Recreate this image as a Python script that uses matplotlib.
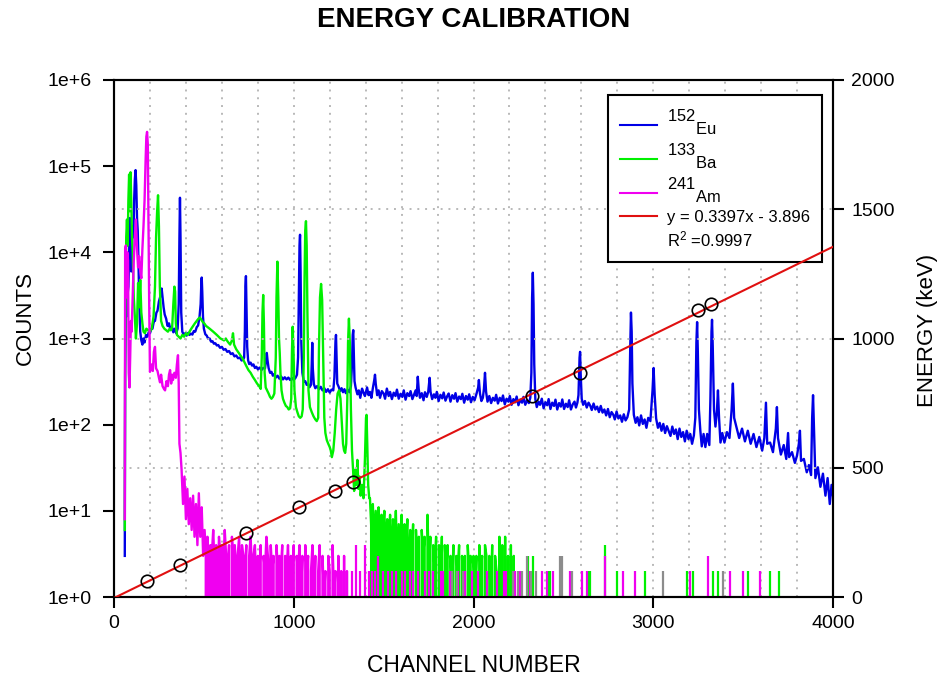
import numpy as np
import matplotlib
matplotlib.use("Agg")
import matplotlib.pyplot as plt
from matplotlib.lines import Line2D
from matplotlib.ticker import FixedLocator, FuncFormatter, NullLocator

plt.rcParams["font.family"] = "Liberation Sans"
plt.rcParams["mathtext.fontset"] = "custom"
plt.rcParams["mathtext.rm"] = "Liberation Sans"
plt.rcParams["mathtext.it"] = "Liberation Sans:italic"

# linear calibration  E = a*ch + b
fit_slope = 0.3397
fit_intercept = -3.896
fit_r2 = 0.9997

# photopeak centroids used for the fit
calib_channel = [184, 367, 734, 1029, 1229, 1330, 2325, 2593, 3249, 3321]
calib_energy = [62, 124, 248, 348, 410, 445, 778, 867, 1110, 1133]

# 152Eu spectrum (channel, counts)
eu_spectrum = [
    (60, 3), (62, 400), (66, 2500), (70, 1800), (74, 3000), (80, 4000), (84, 9000),
    (88, 25000), (92, 8000), (96, 6000), (100, 12000), (104, 20000), (108, 15000),
    (112, 40000), (116, 70000), (120, 90000), (124, 60000), (128, 25000), (132, 18000),
    (136, 8000), (140, 3000), (146, 1200), (152, 950), (158, 850), (164, 1000), (170, 900),
    (178, 1100), (186, 1050), (194, 1200), (200, 1150), (208, 1300), (214, 1300),
    (222, 1600), (228, 1600), (236, 2000), (242, 2100), (250, 2700), (258, 3100),
    (265, 3800), (270, 3000), (276, 2300), (282, 1900), (290, 1700), (298, 1400),
    (306, 1500), (314, 1250), (322, 1380), (330, 1180), (338, 1300), (346, 1150),
    (354, 1300), (360, 2500), (364, 15000), (367, 43000), (370, 15000), (374, 2000),
    (380, 1200), (388, 1100), (396, 1150), (404, 1080), (412, 1160), (420, 1100),
    (428, 1140), (436, 1110), (444, 1220), (452, 1200), (460, 1350), (468, 1420),
    (476, 1800), (482, 2500), (486, 4500), (488, 5100), (491, 3500), (495, 1800),
    (500, 1300), (508, 1120), (516, 1080), (524, 990), (532, 1000), (540, 920),
    (548, 930), (556, 870), (564, 880), (572, 830), (580, 840), (590, 780), (600, 800),
    (610, 740), (620, 755), (630, 700), (640, 715), (650, 660), (660, 675), (670, 620),
    (680, 635), (690, 590), (700, 600), (710, 555), (718, 570), (724, 600), (728, 1200),
    (731, 4000), (734, 5300), (737, 2500), (741, 800), (746, 560), (752, 505),
    (760, 525), (768, 485), (776, 500), (784, 455), (792, 470), (800, 440), (810, 460),
    (820, 430), (830, 455), (840, 450), (846, 560), (850, 680), (854, 560), (860, 455),
    (868, 400), (876, 410), (884, 370), (892, 385), (900, 352), (910, 370), (920, 342),
    (930, 362), (940, 335), (950, 355), (960, 335), (970, 352), (980, 330), (990, 348),
    (1000, 330), (1010, 350), (1018, 380), (1024, 600), (1028, 3000), (1032, 12000),
    (1035, 16000), (1038, 6000), (1042, 900), (1048, 400), (1056, 315), (1064, 320),
    (1072, 290), (1080, 300), (1088, 272), (1096, 290), (1100, 500), (1103, 890),
    (1106, 450), (1112, 295), (1120, 265), (1130, 280), (1140, 258), (1150, 275),
    (1160, 250), (1170, 265), (1180, 240), (1190, 258), (1200, 236), (1210, 255),
    (1220, 250), (1226, 350), (1232, 900), (1235, 1100), (1238, 600), (1242, 300),
    (1250, 275), (1258, 245), (1266, 265), (1274, 238), (1282, 258), (1290, 232),
    (1300, 255), (1310, 238), (1318, 280), (1324, 500), (1328, 1100), (1331, 1250),
    (1334, 700), (1338, 320), (1344, 270), (1354, 225), (1362, 250), (1370, 205),
    (1380, 262), (1388, 235), (1396, 215), (1408, 270), (1416, 220), (1424, 240),
    (1432, 205), (1440, 265), (1448, 330), (1452, 380), (1456, 300), (1464, 220),
    (1472, 250), (1480, 205), (1490, 245), (1500, 230), (1508, 200), (1518, 262),
    (1528, 215), (1536, 240), (1546, 198), (1556, 235), (1566, 215), (1574, 255),
    (1584, 200), (1594, 228), (1604, 210), (1612, 250), (1622, 195), (1632, 232),
    (1642, 215), (1650, 245), (1660, 198), (1670, 225), (1678, 250), (1684, 215),
    (1690, 360), (1695, 260), (1702, 205), (1712, 232), (1722, 192), (1730, 238),
    (1740, 210), (1748, 240), (1756, 350), (1761, 240), (1770, 198), (1780, 225),
    (1788, 205), (1796, 240), (1806, 188), (1816, 222), (1826, 202), (1834, 236),
    (1844, 190), (1854, 215), (1862, 230), (1872, 185), (1882, 220), (1892, 200),
    (1900, 232), (1910, 185), (1920, 212), (1930, 198), (1938, 228), (1948, 180),
    (1958, 215), (1968, 195), (1976, 225), (1986, 182), (1996, 210), (2006, 192),
    (2016, 226), (2026, 270), (2030, 330), (2036, 230), (2044, 188), (2052, 205),
    (2058, 260), (2064, 400), (2070, 240), (2078, 185), (2088, 215), (2098, 178),
    (2108, 205), (2118, 190), (2126, 222), (2136, 176), (2146, 205), (2156, 188),
    (2164, 218), (2174, 172), (2184, 200), (2194, 185), (2202, 215), (2212, 170),
    (2222, 198), (2232, 182), (2240, 212), (2250, 168), (2260, 195), (2270, 180),
    (2278, 210), (2288, 170), (2298, 192), (2308, 178), (2316, 205), (2322, 400),
    (2326, 3000), (2330, 5800), (2334, 2500), (2338, 500), (2344, 198), (2352, 160),
    (2362, 185), (2370, 170), (2380, 200), (2390, 155), (2400, 182), (2410, 168),
    (2418, 198), (2428, 152), (2438, 180), (2448, 165), (2456, 195), (2466, 150),
    (2476, 178), (2486, 162), (2494, 196), (2504, 152), (2514, 175), (2524, 160),
    (2532, 192), (2542, 150), (2552, 172), (2562, 185), (2570, 158), (2578, 180),
    (2584, 220), (2590, 600), (2593, 700), (2596, 400), (2602, 200), (2610, 170),
    (2620, 188), (2630, 158), (2640, 180), (2650, 165), (2658, 148), (2668, 176),
    (2678, 150), (2688, 162), (2698, 140), (2708, 165), (2718, 138), (2728, 150),
    (2738, 128), (2748, 152), (2758, 122), (2768, 140), (2778, 130), (2786, 115),
    (2796, 142), (2806, 118), (2816, 128), (2826, 108), (2836, 132), (2846, 112),
    (2856, 122), (2866, 150), (2872, 800), (2876, 2000), (2880, 1200), (2884, 300),
    (2892, 130), (2902, 105), (2912, 122), (2922, 98), (2932, 128), (2942, 102),
    (2952, 115), (2962, 92), (2972, 120), (2984, 110), (2996, 250), (3002, 455),
    (3008, 220), (3016, 118), (3026, 92), (3036, 105), (3046, 85), (3056, 102),
    (3066, 80), (3076, 96), (3086, 84), (3096, 74), (3106, 95), (3116, 78), (3126, 88),
    (3136, 68), (3146, 90), (3156, 72), (3166, 82), (3176, 64), (3186, 85), (3196, 68),
    (3206, 78), (3216, 60), (3226, 75), (3234, 120), (3240, 900), (3244, 1550),
    (3248, 700), (3254, 150), (3262, 85), (3270, 56), (3280, 78), (3290, 55), (3300, 78),
    (3312, 58), (3318, 200), (3324, 1200), (3327, 1650), (3331, 800), (3338, 150),
    (3346, 95), (3354, 140), (3360, 250), (3366, 120), (3374, 62), (3384, 80), (3396, 62),
    (3410, 82), (3424, 70), (3436, 150), (3443, 300), (3450, 120), (3462, 95), (3478, 70),
    (3494, 90), (3510, 64), (3526, 85), (3542, 60), (3558, 78), (3574, 55), (3590, 72),
    (3606, 50), (3618, 70), (3627, 180), (3634, 60), (3650, 62), (3666, 48), (3682, 90),
    (3688, 160), (3694, 70), (3710, 45), (3726, 58), (3740, 40), (3750, 80), (3756, 42),
    (3772, 48), (3788, 36), (3800, 44), (3810, 60), (3816, 85), (3822, 38), (3838, 40),
    (3854, 28), (3866, 34), (3878, 26), (3884, 120), (3889, 220), (3894, 90), (3902, 24),
    (3916, 32), (3930, 19), (3944, 27), (3958, 15), (3970, 24), (3982, 12), (3992, 20),
    (4000, 15),
]

# 133Ba spectrum (channel, counts)
ba_spectrum = [
    (60, 6), (62, 500), (64, 2300), (68, 15000), (72, 24000), (76, 12000), (80, 40000),
    (84, 80000), (88, 30000), (92, 85000), (96, 40000), (100, 15000), (104, 10000),
    (110, 3000), (116, 1800), (122, 1000), (128, 1500), (134, 4400), (140, 2300),
    (146, 4800), (152, 2000), (158, 1500), (164, 1200), (172, 1150), (180, 1300),
    (190, 1250), (200, 1200), (210, 1300), (220, 1800), (228, 4000), (234, 15000),
    (240, 30000), (245, 46000), (250, 20000), (255, 4000), (262, 1600), (270, 1400),
    (280, 1300), (290, 1250), (300, 1200), (310, 1300), (318, 1250), (324, 1400),
    (330, 2500), (336, 4000), (340, 3500), (344, 1500), (350, 1100), (360, 1050),
    (370, 1000), (380, 1100), (390, 1050), (400, 1150), (410, 1100), (420, 1200),
    (430, 1300), (440, 1400), (450, 1500), (460, 1600), (470, 1700), (478, 1750),
    (486, 1650), (494, 1550), (502, 1500), (512, 1400), (522, 1350), (532, 1300),
    (542, 1250), (552, 1200), (562, 1150), (572, 1100), (582, 1050), (592, 1000),
    (602, 980), (612, 950), (622, 1000), (628, 950), (636, 900), (646, 850), (656, 950),
    (662, 1150), (668, 850), (680, 750), (690, 700), (700, 650), (712, 600), (724, 540),
    (736, 480), (748, 430), (760, 400), (772, 360), (784, 330), (796, 300), (808, 280),
    (816, 260), (822, 600), (826, 2000), (830, 3200), (834, 1500), (838, 400),
    (844, 270), (852, 250), (860, 230), (868, 210), (876, 200), (884, 210), (892, 230),
    (900, 600), (904, 3000), (909, 7800), (914, 3000), (918, 1000), (922, 680),
    (926, 400), (932, 250), (940, 200), (948, 180), (956, 165), (964, 160), (972, 150),
    (980, 155), (986, 200), (990, 700), (994, 1370), (998, 800), (1004, 250),
    (1012, 160), (1020, 140), (1028, 125), (1036, 120), (1044, 125), (1050, 150),
    (1056, 600), (1060, 5000), (1064, 18000), (1068, 23000), (1072, 12000),
    (1076, 2000), (1082, 250), (1090, 160), (1100, 140), (1110, 125), (1120, 115),
    (1128, 110), (1136, 120), (1140, 700), (1146, 3000), (1152, 4300), (1158, 2800),
    (1164, 600), (1170, 120), (1176, 80), (1184, 66), (1192, 60), (1200, 55),
    (1206, 50), (1212, 42), (1220, 50), (1228, 80), (1236, 150), (1244, 230),
    (1252, 250), (1260, 200), (1266, 120), (1274, 60), (1280, 50), (1286, 47),
    (1292, 60), (1298, 200), (1302, 900), (1307, 1700), (1312, 900), (1318, 150),
    (1324, 50), (1330, 30), (1336, 17), (1342, 30), (1348, 20), (1354, 39), (1360, 18),
    (1366, 25), (1372, 15), (1380, 20), (1388, 14), (1396, 40), (1402, 120),
    (1405, 130), (1409, 60), (1414, 20), (1420, 14),
    # low-count tail
    (1424, 14), (1432, 6), (1440, 12), (1448, 4), (1456, 10), (1464, 5), (1472, 11),
    (1480, 3), (1488, 9), (1496, 6), (1504, 10), (1512, 3), (1520, 8), (1528, 5),
    (1536, 9), (1544, 2), (1552, 8), (1560, 4), (1568, 10), (1576, 2), (1584, 7),
    (1592, 3), (1600, 9), (1608, 1), (1616, 7), (1624, 4), (1632, 8), (1640, 1),
    (1648, 6), (1656, 3), (1664, 7), (1672, 0), (1680, 6), (1688, 2), (1696, 5),
    (1704, 0), (1712, 6), (1720, 3), (1728, 5), (1736, 0), (1744, 9), (1752, 2),
    (1760, 5), (1768, 0), (1776, 4), (1784, 2), (1792, 5), (1800, 0), (1808, 4),
    (1816, 1), (1824, 5), (1832, 0), (1840, 4), (1848, 2), (1856, 4), (1864, 0),
    (1872, 3), (1880, 1), (1888, 4), (1896, 0), (1904, 3), (1912, 2), (1920, 4),
    (1928, 0), (1936, 3), (1944, 1), (1952, 3), (1960, 0), (1968, 4), (1976, 2),
    (1984, 3), (1992, 0), (2000, 3), (2008, 1), (2016, 3), (2024, 0), (2032, 4),
    (2040, 2), (2048, 3), (2056, 0), (2064, 4), (2072, 3), (2080, 0), (2088, 3),
    (2096, 1), (2104, 4), (2112, 0), (2120, 3), (2128, 2), (2136, 0), (2144, 5),
    (2152, 0), (2160, 4), (2168, 0), (2176, 5), (2184, 0), (2192, 3), (2200, 0),
    (2208, 4), (2216, 0), (2224, 3), (2232, 0),
]

# isolated 133Ba counts beyond the continuum
ba_spike_channel = [2264, 2303, 2331, 2414, 2425, 2637, 2648, 2731, 2798, 2954,
                    3188, 3221, 3332, 3360, 3527, 3649, 3699]
ba_spike_counts = [2, 3, 3, 2, 2, 2, 2, 4, 2, 2, 2, 2, 2, 2, 2, 2, 2]

# 241Am spectrum (channel, counts)
am_spectrum = [
    (60, 8), (62, 11000), (66, 12000), (70, 3000), (74, 10000), (78, 8000), (82, 400),
    (86, 270), (90, 600), (94, 1600), (98, 1200), (104, 3000), (110, 8000),
    (116, 15000), (122, 24000), (128, 11000), (134, 6700), (140, 9000), (146, 6000),
    (152, 5000), (158, 11000), (164, 20000), (170, 40000), (176, 120000),
    (180, 220000), (184, 250000), (188, 180000), (192, 20000), (196, 2300), (200, 410),
    (208, 500), (216, 420), (222, 700), (228, 800), (234, 450), (242, 420), (250, 350),
    (256, 310), (262, 380), (270, 280), (278, 260), (284, 250), (292, 320), (300, 280),
    (306, 380), (312, 430), (318, 300), (324, 380), (328, 330), (336, 400), (344, 350),
    (350, 500), (356, 640), (360, 300), (364, 60), (370, 47),
    # low-count tail
    (376, 30), (384, 12), (392, 25), (400, 8), (408, 18), (416, 7), (424, 14), (432, 6),
    (440, 15), (448, 5), (456, 12), (464, 4), (472, 16), (480, 5), (488, 11), (496, 3),
    (504, 6), (512, 3), (520, 5), (528, 2), (536, 4), (544, 3), (552, 6), (560, 2),
    (568, 4), (576, 1), (584, 5), (592, 3), (600, 4), (608, 2), (616, 6), (624, 3),
    (632, 2), (640, 4), (648, 0), (656, 5), (664, 3), (672, 4), (680, 2), (688, 3),
    (696, 5), (704, 1), (712, 4), (720, 3), (728, 2), (736, 4), (744, 0), (752, 3),
    (760, 5), (768, 2), (776, 3), (784, 4), (792, 1), (800, 3), (808, 2), (816, 4),
    (824, 0), (832, 3), (840, 2), (848, 5), (856, 3), (864, 1), (872, 4), (880, 2),
    (888, 3), (896, 0), (904, 4), (912, 2), (920, 3), (928, 2), (936, 4), (944, 0),
    (952, 3), (960, 2), (968, 4), (976, 1), (984, 3), (992, 2), (1000, 4), (1008, 0),
    (1016, 3), (1024, 2), (1032, 4), (1040, 1), (1048, 3), (1056, 0), (1064, 4),
    (1072, 2), (1080, 3), (1088, 0), (1096, 2), (1104, 4), (1112, 1), (1120, 3),
    (1128, 0), (1136, 2), (1144, 4), (1152, 0), (1160, 3), (1168, 1), (1176, 2),
    (1184, 0), (1192, 3), (1200, 2), (1208, 0), (1216, 4), (1224, 1), (1232, 2),
    (1240, 0), (1248, 3), (1256, 0), (1264, 2), (1272, 0), (1280, 3), (1288, 0),
    (1296, 2), (1304, 0),
]

# isolated 241Am counts
am_spike_channel = [1324, 1346, 1368, 1396, 1418, 1435, 1452, 1469, 1496, 1524, 1546,
                    1569, 1602, 1619, 1647, 1663, 1691, 1730, 1752, 1775, 1819, 1830,
                    1869, 1914, 1953, 1992, 2025, 2075, 2131, 2170, 2181, 2231, 2259,
                    2314, 2381, 2409, 2442, 2537, 2603, 2631, 2731, 2832, 2898,
                    3204, 3304, 3427, 3499, 3594]
am_spike_counts = [2, 4, 2, 4, 2, 2, 2, 3, 2, 2, 2, 2, 2, 2, 2, 2, 2, 2, 2, 2, 2, 2,
                   2, 2, 2, 2, 2, 2, 2, 2, 2, 2, 2, 2, 2, 2, 2, 2, 2, 2, 3, 2, 2,
                   2, 3, 2, 2, 2]

# channels where both sources register a count
shared_channel = [1880, 1908, 1941, 2220, 2247, 2270, 2297, 2320, 2348, 2481, 2492,
                  2548, 3054, 3388]
shared_counts = [2, 2, 2, 2, 2, 2, 3, 2, 2, 3, 3, 2, 2, 2]

EU_COLOR = "#0000e6"
BA_COLOR = "#00f000"
AM_COLOR = "#f000f0"
FIT_COLOR = "#e01010"
GRID_KW = dict(color="#b9b9b9", linestyle=(0, (1, 3)), linewidth=1.4)
SPEC_LW = 1.7

eu_ch, eu_counts = np.array(eu_spectrum, dtype=float).T
ba_ch, ba_counts = np.array(ba_spectrum, dtype=float).T
am_ch, am_counts = np.array(am_spectrum, dtype=float).T

fig = plt.figure(figsize=(9.43, 6.82), dpi=100)
ax = fig.add_axes([114 / 943, 1 - 597 / 682, 719 / 943, 517 / 682])

ax.set_yscale("log", nonpositive="clip")
ax.set_xlim(0, 4000)
ax.set_ylim(1, 1e6)

ax.plot(eu_ch, eu_counts, color=EU_COLOR, lw=SPEC_LW, zorder=3)

ax.plot(ba_ch, ba_counts, color=BA_COLOR, lw=SPEC_LW, zorder=4)
# single-count noise packs solid down to the axis
ax.fill_between(ba_ch, 1, ba_counts, where=ba_ch >= 1424, color=BA_COLOR, lw=0,
                zorder=4)
ax.vlines(ba_spike_channel, 1, ba_spike_counts, color=BA_COLOR, lw=1.6, zorder=4)

ax.plot(am_ch, am_counts, color=AM_COLOR, lw=SPEC_LW, zorder=5)
ax.fill_between(am_ch, 1, am_counts, where=am_ch >= 500, color=AM_COLOR, lw=0,
                zorder=5)
ax.vlines(am_spike_channel, 1, am_spike_counts, color=AM_COLOR, lw=1.6, zorder=5)
ax.vlines(shared_channel, 1, shared_counts, color="#8c8c8c", lw=1.6, zorder=5)

# axes: counts on a log scale
ax.yaxis.set_major_locator(FixedLocator([10.0 ** k for k in range(7)]))
ax.yaxis.set_major_formatter(FuncFormatter(lambda v, _: f"1e+{int(round(np.log10(v)))}"))
ax.yaxis.set_minor_locator(NullLocator())
ax.xaxis.set_major_locator(FixedLocator([0, 1000, 2000, 3000, 4000]))
ax.xaxis.set_minor_locator(FixedLocator(np.arange(0, 4001, 200)))
ax.grid(which="both", axis="x", **GRID_KW)
ax.set_axisbelow(True)
ax.tick_params(which="minor", length=0)
ax.tick_params(which="major", direction="out", length=8, width=1.5, labelsize=14, pad=5)
ax.tick_params(axis="y", pad=8)

# energy axis with the calibration line
ax2 = ax.twinx()
ax2.set_ylim(0, 2000)
ax2.set_yticks([0, 500, 1000, 1500, 2000])
ax2.grid(axis="y", **GRID_KW)
ax2.tick_params(direction="out", length=8, width=1.5, labelsize=14, pad=5)

fit_x = np.array([0, 4000])
ax2.plot(fit_x, fit_slope * fit_x + fit_intercept, color=FIT_COLOR, lw=1.5, zorder=6)
ax2.plot(calib_channel, calib_energy, "o", mfc="none", mec="black", ms=9, mew=1.2,
         zorder=7)

for a in (ax, ax2):
    for s in a.spines.values():
        s.set_linewidth(1.5)

handles = [
    Line2D([], [], color=EU_COLOR, lw=1.5),
    Line2D([], [], color=BA_COLOR, lw=1.5),
    Line2D([], [], color=AM_COLOR, lw=1.5),
    Line2D([], [], color=FIT_COLOR, lw=1.5),
    Line2D([], [], color="none"),
]
labels = [
    r"$^{152}$$_{\mathrm{Eu}}$",
    r"$^{133}$$_{\mathrm{Ba}}$",
    r"$^{241}$$_{\mathrm{Am}}$",
    f"y = {fit_slope}x - {abs(fit_intercept)}",
    f"R$^2$ ={fit_r2}",
]
leg = ax2.legend(handles, labels, loc="upper right", bbox_to_anchor=(0.985, 0.971),
                 borderaxespad=0, fontsize=12, handlelength=2.2, handletextpad=0.6,
                 labelspacing=0.3, borderpad=0.75, fancybox=False, framealpha=1,
                 edgecolor="black")
leg.get_frame().set_linewidth(1.5)
for t in leg.get_texts()[:3]:
    t.set_fontsize(17)

fig.text(474 / 943, 1 - 20 / 682, "ENERGY CALIBRATION", ha="center", va="center",
         fontsize=20, fontweight="bold")
fig.text(474 / 943, 1 - 665 / 682, "CHANNEL NUMBER", ha="center", va="center", fontsize=16.5)
fig.text(25 / 943, 1 - 318 / 682, "COUNTS", ha="center", va="center", fontsize=16,
         rotation=90)
fig.text(928 / 943, 1 - 330 / 682, "ENERGY (keV)", ha="center", va="center",
         fontsize=16, rotation=90)

fig.savefig("out.png", dpi=100)
